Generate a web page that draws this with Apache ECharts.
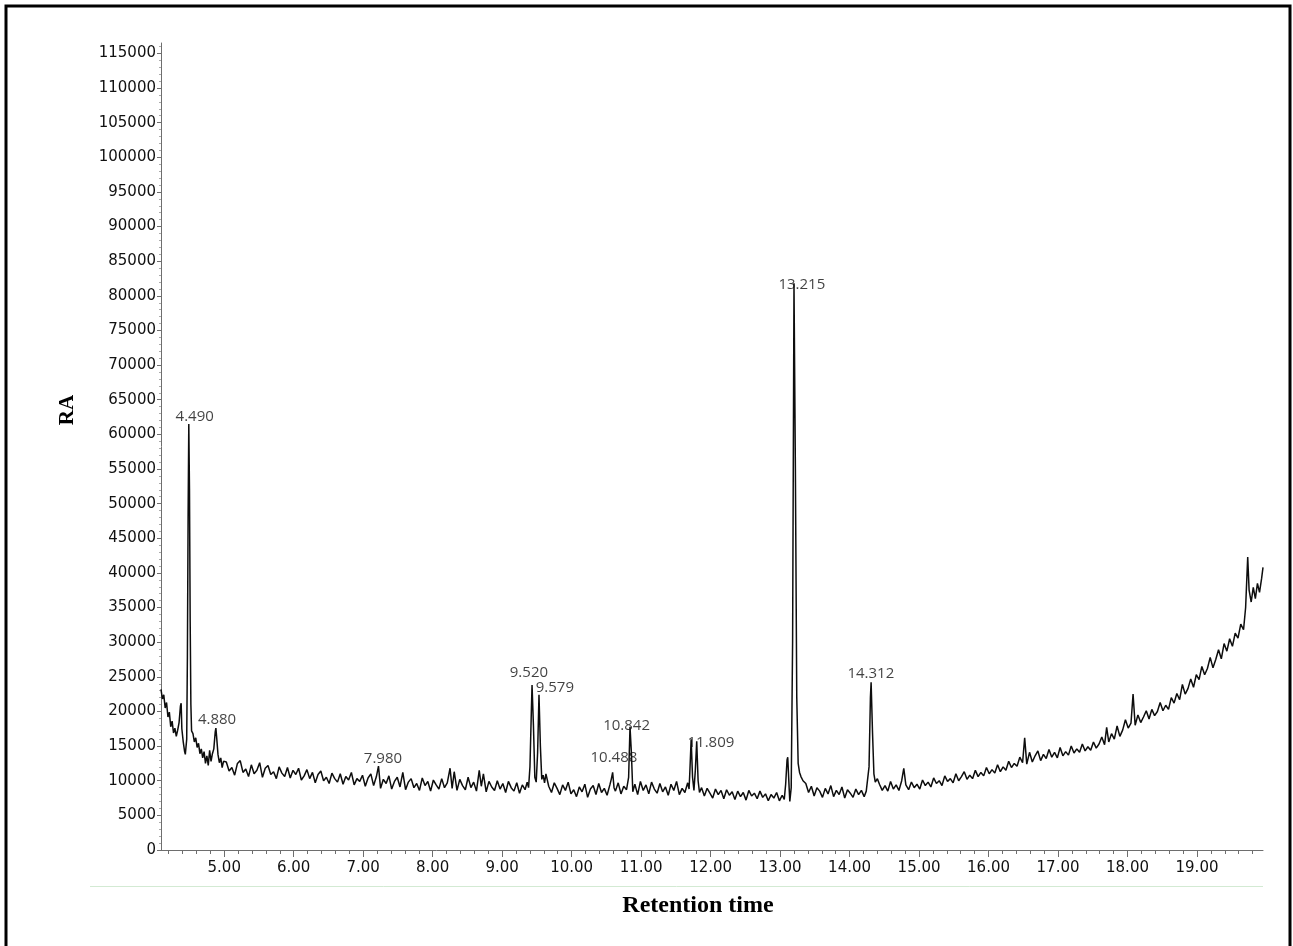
<!DOCTYPE html>
<html><head><meta charset="utf-8">
<script src="https://cdn.jsdelivr.net/npm/echarts@6/dist/echarts.min.js"></script>
<style>html,body{margin:0;padding:0;background:#fff}#c{width:1293px;height:946px}</style>
</head><body><div id="c"></div>
<script>
// Retention time (min), relative abundance
const trace = [
[4.09,23200],[4.11,21800],[4.13,22400],[4.15,20500],[4.17,21300],[4.19,19200],[4.21,19900],[4.23,17800],[4.25,18600],[4.27,16900],[4.29,17600],[4.31,16400],[4.33,17300],[4.35,18400],[4.37,20800],[4.38,21200],[4.39,17500],[4.41,15600],[4.43,14200],[4.44,13800],[4.46,16000],[4.47,28000],[4.48,48000],[4.49,61500],[4.50,52000],[4.51,33000],[4.52,21000],[4.53,17200],[4.55,16800],[4.57,15600],[4.59,16200],[4.61,14800],[4.63,15400],[4.65,13900],[4.67,14600],[4.69,13300],[4.71,14200],[4.73,12500],[4.75,13600],[4.77,12200],[4.79,14400],[4.81,12800],[4.83,13900],[4.85,14600],[4.87,17000],[4.88,17600],[4.89,16400],[4.91,13800],[4.93,12600],[4.95,13300],[4.97,11900],[4.99,12800],
[5.03,12700],[5.07,11400],[5.11,11900],[5.15,10800],[5.19,12500],[5.23,12900],[5.27,11200],[5.31,11700],[5.35,10600],[5.39,12300],[5.43,11000],[5.47,11500],[5.51,12600],[5.55,10500],[5.59,11800],[5.63,12200],[5.67,10900],[5.71,11300],[5.75,10300],[5.79,12000],[5.83,11100],[5.87,10600],[5.91,11900],[5.95,10400],[5.99,11500],[6.03,10900],[6.07,11800],[6.11,10100],[6.15,10700],[6.19,11600],[6.23,10300],[6.27,11200],[6.31,9700],[6.35,10900],[6.39,11400],[6.43,10000],[6.47,10500],[6.51,9600],[6.55,11100],[6.59,10300],[6.63,9800],[6.67,11000],[6.71,9500],[6.75,10600],[6.79,10100],[6.83,11200],[6.87,9400],[6.91,10300],[6.95,9900],[6.99,10800],[7.03,9200],[7.07,10400],[7.11,11000],[7.15,9300],[7.19,10600],[7.22,12100],[7.25,8900],[7.29,10200],[7.33,9600],[7.37,10700],[7.41,8800],[7.45,9900],[7.49,10500],[7.53,9100],[7.57,11200],[7.61,8700],[7.65,9800],[7.69,10300],[7.73,9000],[7.77,9600],[7.81,8600],[7.85,10400],[7.89,9300],[7.93,9900],[7.97,8500],[8.01,10100],[8.05,9400],[8.09,8800],[8.13,10300],[8.17,9000],[8.21,9700],[8.25,11800],[8.28,8900],[8.31,11300],[8.35,8600],[8.39,10200],[8.43,9300],[8.47,8700],[8.51,10500],[8.55,9000],[8.59,9800],[8.63,8500],[8.67,11500],[8.70,9200],[8.73,11000],[8.77,8400],[8.81,9900],[8.85,9100],[8.89,8600],[8.93,10000],[8.97,8800],[9.01,9600],[9.05,8300],[9.09,9900],[9.13,9000],[9.17,8500],[9.21,9700],[9.25,8200],[9.29,9400],[9.33,8700],[9.36,9800],
[9.38,9000],[9.40,12000],[9.42,20000],[9.43,23800],[9.45,18000],[9.47,10500],[9.49,9800],[9.51,14000],[9.53,22400],[9.55,15000],[9.57,10200],[9.59,10800],[9.61,9700],
[9.63,11000],[9.67,9200],[9.71,8300],[9.75,9700],[9.79,8900],[9.83,8000],[9.87,9400],[9.91,8600],[9.95,9800],[9.99,8100],[10.03,8700],[10.07,7700],[10.11,9100],[10.15,8400],[10.19,9500],[10.23,7600],[10.27,8800],[10.31,9300],[10.35,8000],[10.39,9600],[10.43,8300],[10.47,8900],[10.51,7900],[10.55,9400],[10.57,10200],[10.59,11200],[10.61,9000],[10.63,8500],[10.67,9700],[10.71,8100],[10.75,9200],[10.79,8700],[10.82,10500],[10.84,17800],[10.86,14000],[10.88,8400],[10.91,9500],[10.95,8000],[10.99,9900],[11.03,8600],[11.07,9400],[11.11,8100],[11.15,9800],[11.19,8800],[11.23,8200],[11.27,9600],[11.31,8400],[11.35,9100],[11.39,7900],[11.43,9500],[11.47,8600],[11.51,9900],[11.55,8000],[11.59,8900],[11.63,8300],[11.67,9700],
[11.69,8800],[11.70,11000],[11.72,16000],[11.74,10500],[11.76,8600],[11.78,11500],[11.80,15700],[11.82,10000],[11.84,8300],
[11.87,9000],[11.91,7800],[11.95,8900],[11.99,8200],[12.03,7500],[12.07,8800],[12.11,8000],[12.15,8600],[12.19,7400],[12.23,8700],[12.27,7900],[12.31,8400],[12.35,7300],[12.39,8500],[12.43,7700],[12.47,8300],[12.51,7200],[12.55,8600],[12.59,7800],[12.63,8200],[12.67,7400],[12.71,8500],[12.75,7600],[12.79,8100],[12.83,7100],[12.87,8000],[12.91,7500],[12.95,8300],[12.99,7100],[13.03,7900],[13.06,7300],
[13.08,9500],[13.10,13000],[13.11,13400],[13.13,9000],[13.14,7000],[13.16,9000],[13.18,30000],[13.20,81800],[13.22,55000],[13.24,22000],[13.26,12500],[13.28,11200],[13.30,10600],[13.33,10000],
[13.37,9600],[13.41,8300],[13.45,9200],[13.49,7800],[13.53,9000],[13.57,8500],[13.61,7600],[13.65,8900],[13.69,8100],[13.73,9300],[13.77,7700],[13.81,8600],[13.85,8000],[13.89,9100],[13.93,7500],[13.97,8700],[14.01,8200],[14.05,7600],[14.09,8800],[14.13,8000],[14.17,8600],[14.21,7700],[14.24,8500],
[14.26,8400],[14.28,12000],[14.30,22000],[14.31,24200],[14.33,17000],[14.35,11000],[14.37,9800],[14.40,10300],
[14.43,9500],[14.47,8600],[14.51,9300],[14.55,8500],[14.59,9900],[14.63,8800],[14.67,9400],[14.71,8600],[14.75,10000],[14.78,11800],[14.81,9400],[14.85,8700],[14.89,9800],[14.93,9000],[14.97,9500],[15.01,8800],[15.05,10100],[15.09,9300],[15.13,9800],[15.17,9100],[15.21,10400],[15.25,9600],[15.29,10000],[15.33,9300],[15.37,10700],[15.41,9900],[15.45,10300],[15.49,9700],[15.53,11000],[15.57,10000],[15.61,10600],[15.65,11300],[15.69,10200],[15.73,10800],[15.77,10300],[15.81,11500],[15.85,10600],[15.89,11200],[15.93,10700],[15.97,11900],[16.01,11000],[16.05,11600],[16.09,11100],[16.13,12300],[16.17,11300],[16.21,12000],[16.25,11500],[16.29,12800],[16.33,11900],[16.37,12500],[16.41,12100],[16.45,13400],[16.49,12600],[16.52,16200],[16.55,12400],[16.59,14100],[16.63,12700],[16.67,13600],[16.71,14300],[16.75,12900],[16.79,13800],[16.83,13200],[16.87,14500],[16.91,13400],[16.95,14100],[16.99,13300],[17.03,14800],[17.07,13600],[17.11,14200],[17.15,13700],[17.19,15000],[17.23,14000],[17.27,14600],[17.31,14100],[17.35,15300],[17.39,14300],[17.43,14900],[17.47,14400],[17.51,15600],[17.55,14700],[17.59,15300],
[17.63,16300],[17.67,15200],[17.70,17700],[17.73,15600],[17.77,16800],[17.81,16000],[17.85,17900],[17.89,16400],[17.93,17300],[17.97,18800],[18.01,17600],[18.05,18300],[18.08,22500],[18.11,18000],[18.15,19500],[18.19,18400],[18.23,19200],[18.27,20100],[18.31,18900],[18.35,20300],[18.39,19400],[18.43,20000],[18.47,21300],[18.51,20100],[18.55,20900],[18.59,20300],[18.63,22000],[18.67,21200],[18.71,22600],[18.75,21700],[18.79,23900],[18.83,22500],[18.87,23300],[18.91,24700],[18.95,23500],[18.99,25300],[19.03,24600],[19.07,26500],[19.11,25300],[19.15,26200],[19.19,27800],[19.23,26300],[19.27,27500],[19.31,28900],[19.35,27600],[19.39,29800],[19.43,28700],[19.47,30500],[19.51,29400],[19.55,31300],[19.59,30600],[19.63,32600],[19.67,31800],[19.70,35000],[19.73,42300],[19.75,37500],[19.78,35800],[19.81,37900],[19.84,36300],[19.87,38500],[19.90,37200],[19.93,39200],[19.95,40800]
];
// peak annotation text and where it sits (time, abundance)
const peakNames = ['4.490','4.880','7.980','9.520','9.579','10.842','10.488','11.809','13.215','14.312'];
const peakLabelPos = [[4.575,62480],[4.896,18760],[7.284,13130],[9.385,25540],[9.759,23380],[10.791,17890],[10.608,13320],[12.004,15480],[13.313,81670],[14.306,25400]];
const xTickValues = [5,6,7,8,9,10,11,12,13,14,15,16,17,18,19];
const xTickLabels = ['5.00','6.00','7.00','8.00','9.00','10.00','11.00','12.00','13.00','14.00','15.00','16.00','17.00','18.00','19.00'];
const yTickValues = [0,5000,10000,15000,20000,25000,30000,35000,40000,45000,50000,55000,60000,65000,70000,75000,80000,85000,90000,95000,100000,105000,110000,115000];
const yTickLabels = ['0','5000','10000','15000','20000','25000','30000','35000','40000','45000','50000','55000','60000','65000','70000','75000','80000','85000','90000','95000','100000','105000','110000','115000'];
const X_MIN = 4.09, X_MAX = 19.95, Y_MAX = 116500;

const xMinor = [];
for (let i = 21; i <= 99; i++) { if (i % 5 !== 0) xMinor.push(i / 5); }
const yMinor = [];
for (let v = 0; v <= 116000; v += 1000) { if (v % 5000 !== 0) yMinor.push(v); }

const axisGray = '#6e6e6e';
const chart = echarts.init(document.getElementById('c'), null, {renderer: 'canvas'});
const labelFont = 'DejaVu Sans';
chart.setOption({
  animation: false,
  backgroundColor: '#fff',
  grid: {left: 161, right: 30, top: 43, bottom: 96, containLabel: false},
  xAxis: [{
    type: 'value', min: X_MIN, max: X_MAX,
    axisLine: {show: true, lineStyle: {color: axisGray, width: 1}},
    axisTick: {show: true, length: 7, customValues: xTickValues, lineStyle: {color: axisGray}},
    axisLabel: {show: true, customValues: xTickValues, margin: 11,
      formatter: v => xTickLabels[xTickValues.indexOf(Math.round(v))] || '',
      color: '#111', fontSize: 15, fontFamily: labelFont},
    splitLine: {show: false}
  }, {
    type: 'value', min: X_MIN, max: X_MAX, position: 'bottom',
    axisLine: {show: false},
    axisTick: {show: true, length: 4, customValues: xMinor, lineStyle: {color: axisGray}},
    axisLabel: {show: false}, splitLine: {show: false}
  }],
  yAxis: [{
    type: 'value', min: 0, max: Y_MAX,
    axisLine: {show: true, lineStyle: {color: axisGray, width: 1}},
    axisTick: {show: true, length: 4, customValues: yTickValues, lineStyle: {color: axisGray}},
    axisLabel: {show: true, customValues: yTickValues, margin: 5,
      formatter: v => yTickLabels[yTickValues.indexOf(Math.round(v))] || '',
      color: '#111', fontSize: 15, fontFamily: labelFont},
    splitLine: {show: false}
  }, {
    type: 'value', min: 0, max: Y_MAX, position: 'left',
    axisLine: {show: false},
    axisTick: {show: true, length: 2, customValues: yMinor, lineStyle: {color: '#aaa'}},
    axisLabel: {show: false}, splitLine: {show: false}
  }],
  series: [{
    type: 'line', data: trace, xAxisIndex: 0, yAxisIndex: 0,
    showSymbol: false, symbol: 'none', smooth: false,
    lineStyle: {color: '#0d0d0d', width: 1.5}, z: 3
  }, {
    type: 'scatter', xAxisIndex: 0, yAxisIndex: 0,
    data: peakLabelPos.map((p, i) => ({value: p, name: peakNames[i]})),
    symbolSize: 1, itemStyle: {color: 'rgba(0,0,0,0)'}, z: 5,
    label: {show: true, position: 'inside', formatter: p => p.name,
      color: '#111', fontSize: 15, fontFamily: 'Open Sans'}
  }],
  graphic: [
    {type: 'rect', shape: {x: 6, y: 6, width: 1284, height: 960}, style: {fill: 'none', stroke: '#000', lineWidth: 3}, z: 10},
    {type: 'line', shape: {x1: 90, y1: 886.5, x2: 1263, y2: 886.5}, style: {stroke: '#d3ead3', lineWidth: 1}},
    {type: 'text', x: 68, y: 410, rotation: Math.PI / 2,
      style: {text: 'RA', fontFamily: 'Liberation Serif', fontWeight: 'bold', fontSize: 21, fill: '#000', textAlign: 'center', textVerticalAlign: 'middle'}},
    {type: 'text', x: 698, y: 906,
      style: {text: 'Retention time', fontFamily: 'Liberation Serif', fontWeight: 'bold', fontSize: 24, fill: '#000', textAlign: 'center', textVerticalAlign: 'middle'}}
  ]
});
</script>
</body></html>
